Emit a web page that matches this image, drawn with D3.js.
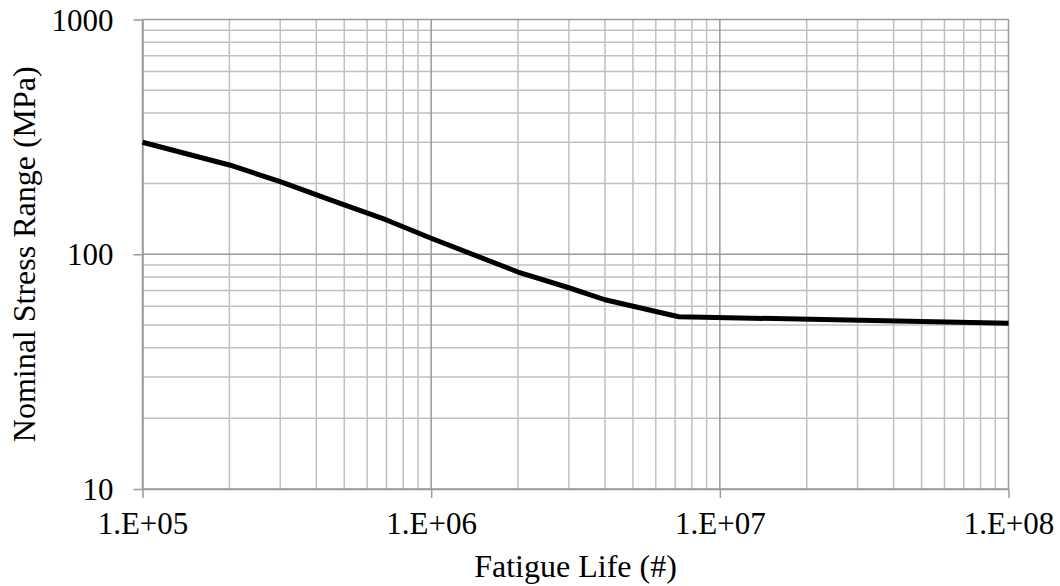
<!DOCTYPE html>
<html><head><meta charset="utf-8">
<script src="https://cdn.jsdelivr.net/npm/d3@7"></script>
</head>
<body style="margin:0;padding:0;background:#fff;"><svg id="c" width="1060" height="586" font-family="Times New Roman"></svg>
<script>
const fatigueLife = [1e5, 2e5, 3e5, 4.5e5, 7e5, 1e6, 2e6, 3e6, 4e6, 7.2e6, 1e8];
const stressRange = [300, 240, 204, 170, 140, 117, 84, 72, 64, 54.2, 50.8];
const xTickValues = [1e5, 1e6, 1e7, 1e8];
const xTickLabels = ["1.E+05", "1.E+06", "1.E+07", "1.E+08"];
const yTickValues = [10, 100, 1000];
const yTickLabels = ["10", "100", "1000"];
const xTitle = "Fatigue Life (#)";
const yTitle = "Nominal Stress Range (MPa)";

const FONT = "Times New Roman";
const svg = d3.select("#c");
const L = 142.5, R = 1008.5, T = 19.5, B = 489;
const x = d3.scaleLog().domain([1e5, 1e8]).range([L, R]);
const y = d3.scaleLog().domain([10, 1000]).range([B, T]);

const minorX = [], minorY = [];
for (let d = 1e5; d < 1e8; d *= 10) for (let k = 2; k <= 9; k++) minorX.push(d * k);
for (let d = 10; d < 1000; d *= 10) for (let k = 2; k <= 9; k++) minorY.push(d * k);

const g = svg.append("g");
g.selectAll(".mx").data(minorX).join("line")
  .attr("x1", d => x(d)).attr("x2", d => x(d)).attr("y1", T).attr("y2", B)
  .attr("stroke", "#c0c0c0").attr("stroke-width", 1.5);
g.selectAll(".my").data(minorY).join("line")
  .attr("x1", L).attr("x2", R).attr("y1", d => y(d)).attr("y2", d => y(d))
  .attr("stroke", "#c0c0c0").attr("stroke-width", 1.5);
g.selectAll(".Mx").data(xTickValues).join("line")
  .attr("x1", d => x(d)).attr("x2", d => x(d)).attr("y1", T).attr("y2", B)
  .attr("stroke", "#9a9a9a").attr("stroke-width", 1.5);
g.selectAll(".My").data(yTickValues).join("line")
  .attr("x1", L).attr("x2", R).attr("y1", d => y(d)).attr("y2", d => y(d))
  .attr("stroke", "#9a9a9a").attr("stroke-width", 1.5);

const xAxis = d3.axisBottom(x).tickValues(xTickValues)
  .tickFormat((d, i) => xTickLabels[i]).tickSize(9).tickSizeOuter(0).tickPadding(14);
const yAxis = d3.axisLeft(y).tickValues(yTickValues)
  .tickFormat((d, i) => yTickLabels[i]).tickSize(9).tickSizeOuter(0).tickPadding(20);

const gx = svg.append("g").attr("transform", `translate(0,${B})`).call(xAxis);
const gy = svg.append("g").attr("transform", `translate(${L},0)`).call(yAxis);
[gx, gy].forEach(a => {
  a.attr("font-family", FONT).attr("font-size", 31);
  a.select(".domain").attr("stroke", "#9a9a9a").attr("stroke-width", 1.5);
  a.selectAll(".tick line").attr("stroke", "#9a9a9a").attr("stroke-width", 1.5);
  a.selectAll(".tick text").attr("font-family", FONT).attr("font-size", 31).attr("fill", "#000");
});
gy.selectAll(".tick text").attr("dy", "0.34em");

const data = fatigueLife.map((n, i) => [n, stressRange[i]]);
svg.append("path").datum(data)
  .attr("fill", "none").attr("stroke", "#000").attr("stroke-width", 5)
  .attr("stroke-linejoin", "round")
  .attr("d", d3.line().x(d => x(d[0])).y(d => y(d[1])));

svg.append("text").attr("x", (L + R) / 2).attr("y", 577).attr("font-family", FONT)
  .attr("text-anchor", "middle").attr("font-size", 32).attr("fill", "#000").text(xTitle);
svg.append("text").attr("transform", `translate(35,${(T + B) / 2}) rotate(-90)`).attr("font-family", FONT)
  .attr("text-anchor", "middle").attr("font-size", 32).attr("fill", "#000").text(yTitle);
</script></body></html>
